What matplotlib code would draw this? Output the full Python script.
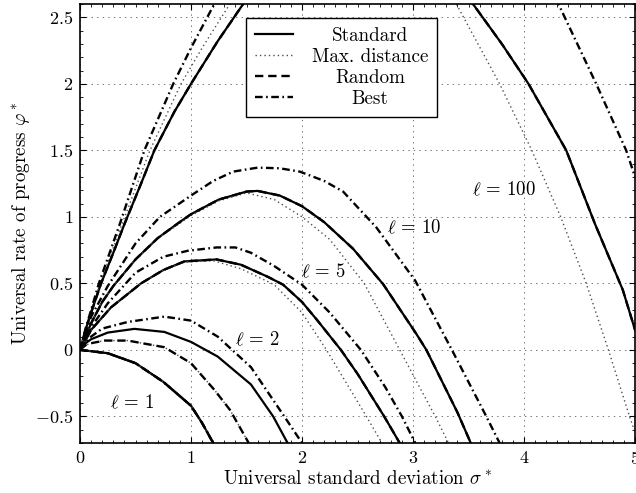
import matplotlib
matplotlib.use("Agg")
import matplotlib.pyplot as plt

plt.rcParams["font.family"] = "cmr10"
plt.rcParams["mathtext.fontset"] = "cm"
plt.rcParams["axes.formatter.use_mathtext"] = True
plt.rcParams["lines.scale_dashes"] = False

# Оси и подписи
x_ticks = [0, 1, 2, 3, 4, 5]
x_tick_labels = ["$0$", "$1$", "$2$", "$3$", "$4$", "$5$"]
y_ticks = [-0.5, 0, 0.5, 1, 1.5, 2, 2.5]
y_tick_labels = ["$-0.5$", "$0$", "$0.5$", "$1$", "$1.5$", "$2$", "$2.5$"]

# l = 1 (все способы совпадают)
sig_l1 = [0, 0.25, 0.5, 0.75, 1.0, 1.1, 1.2]
phi_l1 = [0, -0.025, -0.1, -0.24, -0.42, -0.55, -0.7]

# l = 2
sig_l2_std = [0, 0.05, 0.1, 0.25, 0.49, 0.76, 1.0, 1.24, 1.54, 1.74, 1.87]
phi_l2_std = [0, 0.05, 0.08, 0.13, 0.158, 0.135, 0.06, -0.05, -0.26, -0.5, -0.7]
sig_l2_max = [0, 0.05, 0.1, 0.22, 0.43, 0.76, 1.0, 1.21, 1.35, 1.52]
phi_l2_max = [0, 0.035, 0.05, 0.07, 0.07, 0.02, -0.1, -0.3, -0.45, -0.7]
sig_l2_best = [0, 0.05, 0.1, 0.2, 0.43, 0.76, 1.0, 1.24, 1.54, 1.84, 2.0]
phi_l2_best = [0, 0.06, 0.1, 0.16, 0.21, 0.25, 0.22, 0.10, -0.13, -0.5, -0.7]

# l = 5
sig_l5_std = [0, 0.1, 0.28, 0.55, 0.75, 0.94, 1.23, 1.45, 1.69, 1.83, 2.0, 2.14, 2.35, 2.50, 2.74, 2.88]
phi_l5_std = [0, 0.15, 0.32, 0.5, 0.6, 0.665, 0.68, 0.64, 0.55, 0.49, 0.36, 0.22, 0.0, -0.18, -0.5, -0.7]
sig_l5_max = [0, 0.1, 0.28, 0.55, 0.75, 0.94, 1.2, 1.45, 1.75, 2.0, 2.22, 2.58, 2.72]
phi_l5_max = [0, 0.15, 0.32, 0.5, 0.6, 0.66, 0.67, 0.61, 0.49, 0.28, 0.0, -0.5, -0.7]
sig_l5_best = [0, 0.1, 0.25, 0.5, 0.75, 0.97, 1.23, 1.4, 1.54, 1.75, 2.0, 2.25, 2.53, 2.75, 2.9, 3.02]
phi_l5_best = [0, 0.17, 0.35, 0.58, 0.70, 0.745, 0.77, 0.77, 0.73, 0.63, 0.49, 0.28, 0.0, -0.28, -0.5, -0.7]

# l = 10
sig_l10_std = [0, 0.1, 0.2, 0.3, 0.5, 0.7, 0.88, 1.0, 1.25, 1.5, 1.6, 1.8, 2.0, 2.2, 2.46, 2.73, 3.03, 3.12, 3.40, 3.52]
phi_l10_std = [0, 0.2, 0.36, 0.48, 0.68, 0.84, 0.95, 1.02, 1.13, 1.19, 1.195, 1.16, 1.08, 0.96, 0.76, 0.495, 0.12, 0.0, -0.47, -0.7]
sig_l10_max = [0, 0.1, 0.2, 0.3, 0.5, 0.7, 0.88, 1.0, 1.25, 1.5, 1.75, 2.0, 2.25, 2.56, 2.88, 3.2, 3.32]
phi_l10_max = [0, 0.2, 0.36, 0.48, 0.68, 0.84, 0.94, 1.01, 1.12, 1.18, 1.13, 1.0, 0.83, 0.5, 0.0, -0.5, -0.7]
sig_l10_best = [0, 0.1, 0.25, 0.5, 0.72, 1.0, 1.2, 1.38, 1.6, 1.8, 1.98, 2.2, 2.37, 2.67, 3.02, 3.35, 3.66, 3.78]
phi_l10_best = [0, 0.25, 0.48, 0.8, 1.0, 1.16, 1.27, 1.34, 1.37, 1.365, 1.34, 1.27, 1.19, 0.92, 0.52, 0.0, -0.5, -0.7]

# l = 100 (вершина выходит за верхнюю границу)
sig_l100_std = [0, 0.05, 0.1, 0.19, 0.3, 0.4, 0.55, 0.67, 0.85, 1.0, 1.24, 1.47, 2.0, 2.5, 3.0, 3.54, 3.8, 4.04, 4.38, 4.64, 4.89, 5.0]
phi_l100_std = [0, 0.15, 0.28, 0.5, 0.73, 0.945, 1.25, 1.5, 1.79, 2.0, 2.32, 2.6, 3.05, 3.15, 3.0, 2.6, 2.3, 2.0, 1.5, 0.945, 0.45, 0.15]
sig_l100_max = [0, 0.05, 0.1, 0.18, 0.38, 0.63, 0.91, 1.1, 1.35, 1.8, 2.3, 2.8, 3.39, 3.78, 4.07, 4.33, 4.56, 4.76, 4.95, 5.0]
phi_l100_max = [0, 0.15, 0.28, 0.5, 0.95, 1.5, 2.0, 2.27, 2.6, 2.95, 3.05, 2.95, 2.6, 2.0, 1.5, 1.0, 0.5, 0.0, -0.5, -0.62]
sig_l100_best = [0, 0.05, 0.1, 0.17, 0.36, 0.58, 0.84, 1.0, 1.21, 1.6, 2.0, 2.5, 3.0, 3.5, 4.0, 4.31, 4.65, 4.92, 5.0]
phi_l100_best = [0, 0.16, 0.3, 0.5, 0.95, 1.5, 2.0, 2.27, 2.6, 3.1, 3.45, 3.65, 3.6, 3.35, 2.95, 2.6, 2.0, 1.5, 1.3]

# Подписи кривых
curve_labels = [r"$\ell\,=\,1$", r"$\ell\,=\,2$", r"$\ell\,=\,5$", r"$\ell\,=\,10$", r"$\ell\,=\,100$"]
label_sig = [0.27, 1.40, 1.99, 2.77, 3.53]
label_phi = [-0.40, 0.075, 0.585, 0.915, 1.20]

method_names = ["Standard", "Max. distance", "Random", "Best"]

STYLE = {
    "Standard": dict(color="black", linewidth=1.6, linestyle="-"),
    "Max. distance": dict(color="0.3", linewidth=1.0, linestyle=(0, (1.0, 2.2))),
    "Random": dict(color="black", linewidth=1.7, linestyle=(0, (6.0, 3.5))),
    "Best": dict(color="black", linewidth=1.7, linestyle=(0, (5.5, 2.5, 1.2, 2.5))),
}


def main():
    fig = plt.figure(figsize=(6.36, 4.93), dpi=100)
    ax = fig.add_axes([0.1258, 0.1014, 0.8727, 0.8905])

    # Группы кривых: (standard, max, random, best)
    groups = [
        ((sig_l1, phi_l1), (sig_l1, phi_l1), (sig_l1, phi_l1), (sig_l1, phi_l1)),
        ((sig_l2_std, phi_l2_std), (sig_l2_max, phi_l2_max), (sig_l2_max, phi_l2_max), (sig_l2_best, phi_l2_best)),
        ((sig_l5_std, phi_l5_std), (sig_l5_max, phi_l5_max), (sig_l5_std, phi_l5_std), (sig_l5_best, phi_l5_best)),
        ((sig_l10_std, phi_l10_std), (sig_l10_max, phi_l10_max), (sig_l10_std, phi_l10_std), (sig_l10_best, phi_l10_best)),
        ((sig_l100_std, phi_l100_std), (sig_l100_max, phi_l100_max), (sig_l100_std, phi_l100_std), (sig_l100_best, phi_l100_best)),
    ]

    handles = {}
    for g in groups:
        for name, (xs, ys) in zip(method_names, g):
            ln, = ax.plot(xs, ys, **STYLE[name])
            handles[name] = ln

    for text, xs, ys in zip(curve_labels, label_sig, label_phi):
        ax.text(xs, ys, text, fontsize=13.5, ha="left", va="center")

    ax.set_xlim(0, 5)
    ax.set_ylim(-0.7, 2.6)
    ax.set_xticks(x_ticks)
    ax.set_xticklabels(x_tick_labels)
    ax.set_yticks(y_ticks)
    ax.set_yticklabels(y_tick_labels)
    ax.xaxis.set_minor_locator(matplotlib.ticker.MultipleLocator(0.1))
    ax.yaxis.set_minor_locator(matplotlib.ticker.MultipleLocator(0.1))
    ax.tick_params(which="both", direction="in", top=True, right=True, labelsize=13)
    ax.tick_params(which="major", length=4.5, width=0.8, pad=5)
    ax.tick_params(which="minor", length=2.5, width=0.6)
    for s in ax.spines.values():
        s.set_linewidth(1.2)

    ax.grid(True, which="major", color="0.45", linestyle=(0, (1, 3)), linewidth=0.7)

    ax.set_xlabel(r"Universal standard deviation $\sigma^*$", fontsize=13.7, labelpad=2)
    ax.set_ylabel(r"Universal rate of progress $\varphi^*$", fontsize=13.7, labelpad=2)

    leg = ax.legend(
        [handles[n] for n in method_names], method_names,
        loc="upper center", bbox_to_anchor=(0.4715, 0.968), borderaxespad=0,
        fancybox=False, framealpha=1, edgecolor="black", fontsize=13.7,
        handlelength=2.0, labelspacing=0.17, borderpad=0.45, handletextpad=1.0,
    )
    leg.get_frame().set_linewidth(1.0)

    # Центрируем подписи легенды
    fig.canvas.draw()
    r = fig.canvas.get_renderer()
    widths = [t.get_window_extent(r).width for t in leg.get_texts()]
    wmax = max(widths)
    for t, w in zip(leg.get_texts(), widths):
        t.set_x((wmax - w) / 2)

    fig.savefig("out.png", dpi=100)


if __name__ == "__main__":
    main()
